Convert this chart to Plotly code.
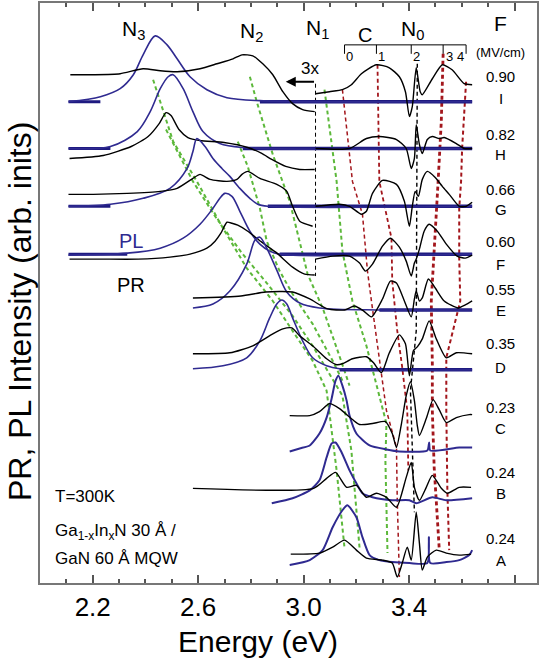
import plotly.graph_objects as go

FONT = "Liberation Sans, Arial, sans-serif"
BLUE = "#2f2a90"
NAVY = "#1e1a80"
RED = "#a3161c"
GREEN = "#5cb83a"

# ---------------- sample labels ----------------
labels = ["I", "H", "G", "F", "E", "D", "C", "B", "A"]
fields = ["0.90", "0.82", "0.66", "0.60", "0.55", "0.35", "0.23", "0.24", "0.24"]
offsets = [483, 436, 378, 330, 274, 214, 134, 83, 21]      # vertical offset of each spectrum
field_y = [508, 450, 395, 343, 295, 240, 176, 111, 45]
letter_y = [486, 430, 375, 320, 273, 216, 155, 90, 23]

# ---------------- PL spectra (energy eV, intensity rel. to offset) ----------------
pl_I_E = [2.108, 2.229, 2.304, 2.354, 2.391, 2.437, 2.482, 2.520, 2.569, 2.633, 2.709, 2.834, 3.639]
pl_I_S = [0, 5, 13, 27, 47, 66, 57, 43, 25, 12, 4, 1, 0]
pl_H_E = [2.108, 2.267, 2.369, 2.418, 2.456, 2.486, 2.505, 2.543, 2.580, 2.618, 2.682, 2.769, 3.639]
pl_H_S = [0, 2, 17, 37, 60, 72, 74, 60, 37, 17, 5, 1, 0]
pl_G_E = [2.108, 2.267, 2.391, 2.493, 2.558, 2.580, 2.595, 2.626, 2.656, 2.690, 2.720, 2.758, 2.796, 2.826, 2.864, 3.639]
pl_G_S = [0, 2, 8, 18, 38, 55, 68, 60, 48, 38, 30, 18, 8, 2, 0, 0]
pl_F_E = [2.108, 2.331, 2.456, 2.543, 2.607, 2.656, 2.682, 2.701, 2.728, 2.758, 2.796, 2.834, 2.871, 2.909, 3.639]
pl_F_S = [-1, 1, 6, 16, 30, 46, 56, 61, 58, 43, 23, 10, 3, 0, 0]
pl_E_E = [2.580, 2.656, 2.720, 2.784, 2.815, 2.834, 2.860, 2.898, 2.936, 2.985, 3.060, 3.287, 3.639]
pl_E_S = [2, 6, 19, 46, 70, 73, 62, 40, 18, 7, 2, 0, 0]
pl_D_E = [2.580, 2.694, 2.784, 2.834, 2.871, 2.898, 2.917, 2.936, 2.958, 2.996, 3.034, 3.087, 3.136, 3.639]
pl_D_S = [1, 4, 12, 29, 52, 66, 70, 66, 52, 29, 12, 4, 1, 0]
pl_C_E = [2.947, 2.985, 3.023, 3.060, 3.087, 3.106, 3.121, 3.132, 3.147, 3.163, 3.174, 3.200, 3.250, 3.314, 3.363, 3.469, 3.476, 3.480, 3.590, 3.639]
pl_C_S = [-2, 1, 4, 16, 32, 51, 69, 74, 64, 49, 34, 16, 4, 0, -2, -1, 7, -1, 2, 2]
pl_B_E = [2.879, 2.958, 3.023, 3.060, 3.087, 3.106, 3.121, 3.144, 3.174, 3.200, 3.223, 3.261, 3.336, 3.401, 3.427, 3.488, 3.541, 3.639]
pl_B_S = [-3, 2, 10, 20, 43, 57, 58, 48, 30, 17, 7, 3, 0, 0, -3, 3, 0, 2]
pl_A_E = [2.947, 3.023, 3.072, 3.110, 3.147, 3.166, 3.200, 3.223, 3.250, 3.287, 3.336, 3.401, 3.469, 3.475, 3.480, 3.541, 3.590, 3.628, 3.639]
pl_A_S = [-3, 2, 12, 35, 52, 57, 45, 25, 7, 2, 0, -1, -1, 25, -1, 0, 2, 7, 12]

# ---------------- PR spectra (left parts x3, right parts) ----------------
prL_I_E = [2.115, 2.202, 2.304, 2.391, 2.456, 2.520, 2.607, 2.671, 2.732, 2.766, 2.807, 2.845, 2.883, 2.921, 2.958, 2.996, 3.042]
prL_I_S = [27, 27, 28, 33, 31, 30, 33, 38, 43, 47, 46, 38, 27, 10, -2, -8, -10]
prR_I_E = [3.045, 3.098, 3.147, 3.181, 3.219, 3.276, 3.325, 3.363, 3.386, 3.401, 3.412, 3.427, 3.442, 3.450, 3.488, 3.526, 3.563, 3.609, 3.639]
prR_I_S = [8, 10, 12, 17, 28, 37, 34, 25, 10, -15, -5, 34, 10, 7, 23, 37, 32, 18, 17]

prL_H_E = [2.112, 2.240, 2.346, 2.410, 2.452, 2.478, 2.497, 2.527, 2.561, 2.607, 2.698, 2.788, 2.841, 2.879, 2.932, 2.985, 3.042]
prL_H_S = [-10, -7, 2, 12, 25, 36, 33, 19, 11, 8, 6, 1, -5, -11, -18, -21, -21]
prR_H_E = [3.045, 3.174, 3.238, 3.287, 3.352, 3.389, 3.408, 3.420, 3.427, 3.439, 3.450, 3.469, 3.488, 3.514, 3.533, 3.579, 3.609, 3.639]
prR_H_S = [0, 0, 10, 12, 9, 0, -20, -10, 24, 4, -5, 9, 12, 10, 11, 5, 0, 0]

prL_G_E = [2.108, 2.202, 2.331, 2.456, 2.520, 2.580, 2.607, 2.645, 2.709, 2.747, 2.766, 2.788, 2.834, 2.898, 2.936, 2.958, 2.985, 3.034]
prL_G_S = [12, 12, 13, 15, 18, 28, 32, 27, 25, 27, 32, 35, 28, 22, 15, 0, -15, -20]
prR_G_E = [3.045, 3.136, 3.174, 3.219, 3.238, 3.261, 3.299, 3.352, 3.382, 3.401, 3.412, 3.423, 3.435, 3.450, 3.469, 3.499, 3.526, 3.552, 3.590, 3.616, 3.639]
prR_G_S = [0, 2, 0, -8, -5, 13, 26, 22, 5, -20, 0, 15, 10, 27, 35, 29, 20, 12, 0, 0, 4]

prL_F_E = [2.112, 2.229, 2.372, 2.493, 2.569, 2.633, 2.664, 2.686, 2.709, 2.728, 2.750, 2.788, 2.841, 2.894, 2.958, 3.004, 3.042]
prL_F_S = [-5, -5, -5, -3, 0, 6, 13, 21, 32, 31, 29, 23, 12, 2, -13, -20, -21]
prR_F_E = [3.045, 3.110, 3.174, 3.212, 3.234, 3.261, 3.299, 3.329, 3.363, 3.389, 3.408, 3.420, 3.427, 3.439, 3.457, 3.476, 3.507, 3.541, 3.582, 3.613, 3.639]
prR_F_S = [-5, -2, -2, -9, -17, -10, 8, 16, 7, -7, -22, -9, -5, 5, 23, 30, 23, 10, -2, -4, -1]

pr_E_E = [2.580, 2.762, 2.856, 2.958, 3.023, 3.091, 3.155, 3.193, 3.227, 3.257, 3.299, 3.329, 3.352, 3.382, 3.408, 3.420, 3.427, 3.439, 3.450, 3.473, 3.499, 3.533, 3.586, 3.613, 3.639]
pr_E_S = [12, 14, 18, 18, 11, 1, 0, 4, -1, -7, 11, 29, 27, 9, -7, 11, 19, 9, 12, 31, 22, 9, 2, 5, 9]
pr_D_E = [2.580, 2.720, 2.807, 2.883, 2.921, 2.955, 2.985, 3.034, 3.087, 3.125, 3.147, 3.185, 3.238, 3.265, 3.295, 3.325, 3.363, 3.386, 3.401, 3.416, 3.431, 3.450, 3.476, 3.503, 3.541, 3.579, 3.639]
pr_D_S = [16, 17, 24, 36, 41, 42, 34, 24, 11, 5, 6, 11, 13, 7, -3, 17, 35, 26, -6, 19, 23, 31, 49, 31, 12, 17, 16]
pr_C_E = [2.947, 3.023, 3.060, 3.098, 3.136, 3.185, 3.212, 3.261, 3.310, 3.336, 3.352, 3.371, 3.389, 3.405, 3.420, 3.431, 3.439, 3.465, 3.491, 3.514, 3.541, 3.579, 3.628, 3.639]
pr_C_S = [34, 34, 38, 46, 41, 30, 25, 26, 28, 16, 2, 26, 54, 68, 49, 24, 14, 31, 50, 40, 27, 32, 35, 35]
pr_B_E = [2.580, 3.038, 3.087, 3.121, 3.163, 3.200, 3.238, 3.276, 3.314, 3.352, 3.389, 3.408, 3.420, 3.439, 3.465, 3.488, 3.522, 3.545, 3.590, 3.635]
pr_B_S = [12, 12, 22, 28, 13, 15, 3, 7, 3, -7, 23, 38, 13, 0, 13, 25, 12, 7, 13, 13]
pr_A_E = [2.951, 3.060, 3.110, 3.155, 3.200, 3.238, 3.299, 3.336, 3.355, 3.374, 3.393, 3.408, 3.427, 3.439, 3.450, 3.469, 3.503, 3.541, 3.590, 3.635]
pr_A_S = [8, 9, 15, 22, 12, 4, 2, -1, -15, -1, 15, 2, 50, 19, -8, 5, 12, 9, 7, 8]

# ---------------- guide lines (energy, absolute height) ----------------
n0_E = [3.431, 3.427, 3.405, 3.412, 3.420]
n0_y = [521, 253, 193, 133, 71]
brk_E = [3.045, 3.045]
brk_y = [501, 308]
green_lines = [
    ([2.429, 2.505, 2.595, 2.694, 2.784, 2.883, 2.958, 3.034, 3.087, 3.125, 3.155],
     [505, 443, 403, 356, 316, 283, 253, 223, 193, 113, 35]),
    ([2.478, 2.580, 2.664, 2.766, 2.860, 2.958, 3.034, 3.147, 3.181, 3.212],
     [455, 403, 368, 331, 301, 268, 238, 188, 133, 35]),
    ([2.750, 2.788, 2.834, 2.860, 2.909, 2.958, 3.034, 3.110, 3.147],
     [443, 418, 376, 343, 313, 290, 260, 223, 203]),
    ([2.796, 2.822, 2.883, 2.947, 3.015, 3.072, 3.125, 3.174],
     [508, 483, 430, 383, 310, 276, 236, 198]),
    ([3.079, 3.125, 3.147, 3.185, 3.238, 3.299, 3.314, 3.310, 3.314, 3.318],
     [495, 403, 333, 283, 238, 173, 160, 123, 83, 30]),
]
red_lines = [
    ([3.147, 3.185, 3.223, 3.242, 3.257, 3.295, 3.314, 3.352, 3.355, 3.363],
     [495, 403, 370, 313, 283, 210, 173, 136, 83, 6], 1.5),
    ([3.280, 3.287, 3.333, 3.336, 3.355, 3.374, 3.393, 3.397],
     [520, 403, 346, 303, 253, 216, 173, 113], 1.8),
    ([3.529, 3.522, 3.510, 3.491, 3.484, 3.488, 3.488, 3.495, 3.507, 3.514],
     [531, 463, 403, 323, 283, 220, 173, 116, 63, 35], 2.8),
    ([3.616, 3.601, 3.597, 3.590, 3.590, 3.594, 3.541, 3.541, 3.545, 3.552],
     [503, 436, 403, 376, 326, 283, 226, 173, 93, 33], 2.0),
]
# C field scale (MV/cm) on top
cscale_E = [3.155, 3.276, 3.408, 3.529, 3.616]
cscale_lab = ["0", "1", "2", "3", "4"]
cscale_lab_E = [3.174, 3.295, 3.427, 3.552, 3.594]

pl = {"I": (pl_I_E, pl_I_S), "H": (pl_H_E, pl_H_S), "G": (pl_G_E, pl_G_S), "F": (pl_F_E, pl_F_S),
      "E": (pl_E_E, pl_E_S), "D": (pl_D_E, pl_D_S), "C": (pl_C_E, pl_C_S), "B": (pl_B_E, pl_B_S),
      "A": (pl_A_E, pl_A_S)}
pr = {"I": [(prL_I_E, prL_I_S), (prR_I_E, prR_I_S)],
      "H": [(prL_H_E, prL_H_S), (prR_H_E, prR_H_S)],
      "G": [(prL_G_E, prL_G_S), (prR_G_E, prR_G_S)],
      "F": [(prL_F_E, prL_F_S), (prR_F_E, prR_F_S)],
      "E": [(pr_E_E, pr_E_S)], "D": [(pr_D_E, pr_D_S)], "C": [(pr_C_E, pr_C_S)],
      "B": [(pr_B_E, pr_B_S)], "A": [(pr_A_E, pr_A_S)]}

fig = go.Figure()


def line(x, y, color, width, dash=None, shape="linear", smoothing=1.0):
    fig.add_trace(go.Scatter(x=x, y=y, mode="lines", hoverinfo="skip", showlegend=False,
                             line=dict(color=color, width=width, dash=dash, shape=shape,
                                       smoothing=smoothing)))


# guide lines
for ex, ey in green_lines:
    line(ex, ey, GREEN, 2.0, dash="4px,3px")
for ex, ey, w in red_lines:
    line(ex, ey, RED, w, dash="4px,3px")
line(n0_E, n0_y, "black", 1.4, dash="4px,3px")
line(brk_E, brk_y, "black", 1.0, dash="4px,3px")

# spectra
for lab, off in zip(labels, offsets):
    e, s = pl[lab]
    if lab in "IHGFED":
        line([e[-2], e[-1]], [off, off], NAVY, 3.5)
        if lab in "IHGF":
            line([e[0], e[1]], [off, off], NAVY, 3.0)
        line(e, [off + v for v in s], BLUE, 1.6, shape="spline", smoothing=0.9)
    else:
        line(e, [off + v for v in s], BLUE, 2.0, shape="spline", smoothing=0.6)
    for (pe, ps) in pr[lab]:
        line(pe, [off + v for v in ps], "black", 1.4, shape="spline", smoothing=0.6)

# C scale bracket
line([cscale_E[0], cscale_E[-1]], [540, 540], "black", 1.0)
for ce in cscale_E:
    line([ce, ce], [540, 531], "black", 1.0)

ann = []


def txt(x, y, t, size, color="black", xanchor="center", xref="x", yref="y", angle=0):
    ann.append(dict(x=x, y=y, text=t, xref=xref, yref=yref, showarrow=False, xanchor=xanchor,
                    yanchor="middle", textangle=angle,
                    font=dict(family=FONT, size=size, color=color)))


for t, ce in zip(cscale_lab, cscale_lab_E):
    txt(ce, 528, t, 13)
txt(2.354, 555, "N<sub>3</sub>", 21)
txt(2.803, 553, "N<sub>2</sub>", 21)
txt(3.053, 556, "N<sub>1</sub>", 21)
txt(3.231, 550, "C", 20)
txt(3.412, 555, "N<sub>0</sub>", 21)
txt(3.748, 561, "F", 21)
txt(3.748, 532, "(MV/cm)", 13)
for f, l, fy, ly in zip(fields, labels, field_y, letter_y):
    txt(3.748, fy, f, 15)
    txt(3.748, ly, l, 15)
txt(3.023, 516, "3x", 17)
txt(2.346, 343, "PL", 20, color=BLUE)
txt(2.346, 299, "PR", 20)
txt(2.051, 87, "T=300K", 17, xanchor="left")
txt(2.051, 51, "Ga<sub>1-x</sub>In<sub>x</sub>N 30 Å /", 17, xanchor="left")
txt(2.051, 25, "GaN 60 Å MQW", 17, xanchor="left")
txt(-0.04, 272, "PR, PL Intensity (arb. inits)", 32, xref="paper", angle=-90)
txt(0.438, -0.1, "Energy (eV)", 30, xref="paper", yref="paper")
ann.append(dict(x=2.932, y=503, ax=3.045, ay=503, xref="x", yref="y", axref="x", ayref="y",
                text="", showarrow=True, arrowhead=2, arrowsize=1, arrowwidth=2,
                arrowcolor="black"))

fig.update_layout(width=540, height=658, margin=dict(l=40, r=2, t=1, b=75),
                  paper_bgcolor="white", plot_bgcolor="white", showlegend=False,
                  annotations=ann)
fig.update_xaxes(range=[2.0, 3.885], tickvals=[2.2, 2.6, 3.0, 3.4, 3.8],
                 ticktext=["2.2", "2.6", "3.0", "3.4", ""], ticks="inside", ticklen=8,
                 tickwidth=1.5, tickcolor="#555", showline=True, linecolor="#777", linewidth=2,
                 mirror="ticks", showgrid=False, zeroline=False,
                 tickfont=dict(family=FONT, size=26, color="black"),
                 minor=dict(dtick=0.1, tick0=2.0, ticks="inside", ticklen=4, tickcolor="#555",
                            showgrid=False))
fig.update_yaxes(range=[0, 582], showticklabels=False, ticks="", showline=True,
                 linecolor="#777", linewidth=2, mirror=True, showgrid=False, zeroline=False)
fig.write_html("out.html", config={"displayModeBar": False},
               post_script="document.body.style.margin='0px';")
